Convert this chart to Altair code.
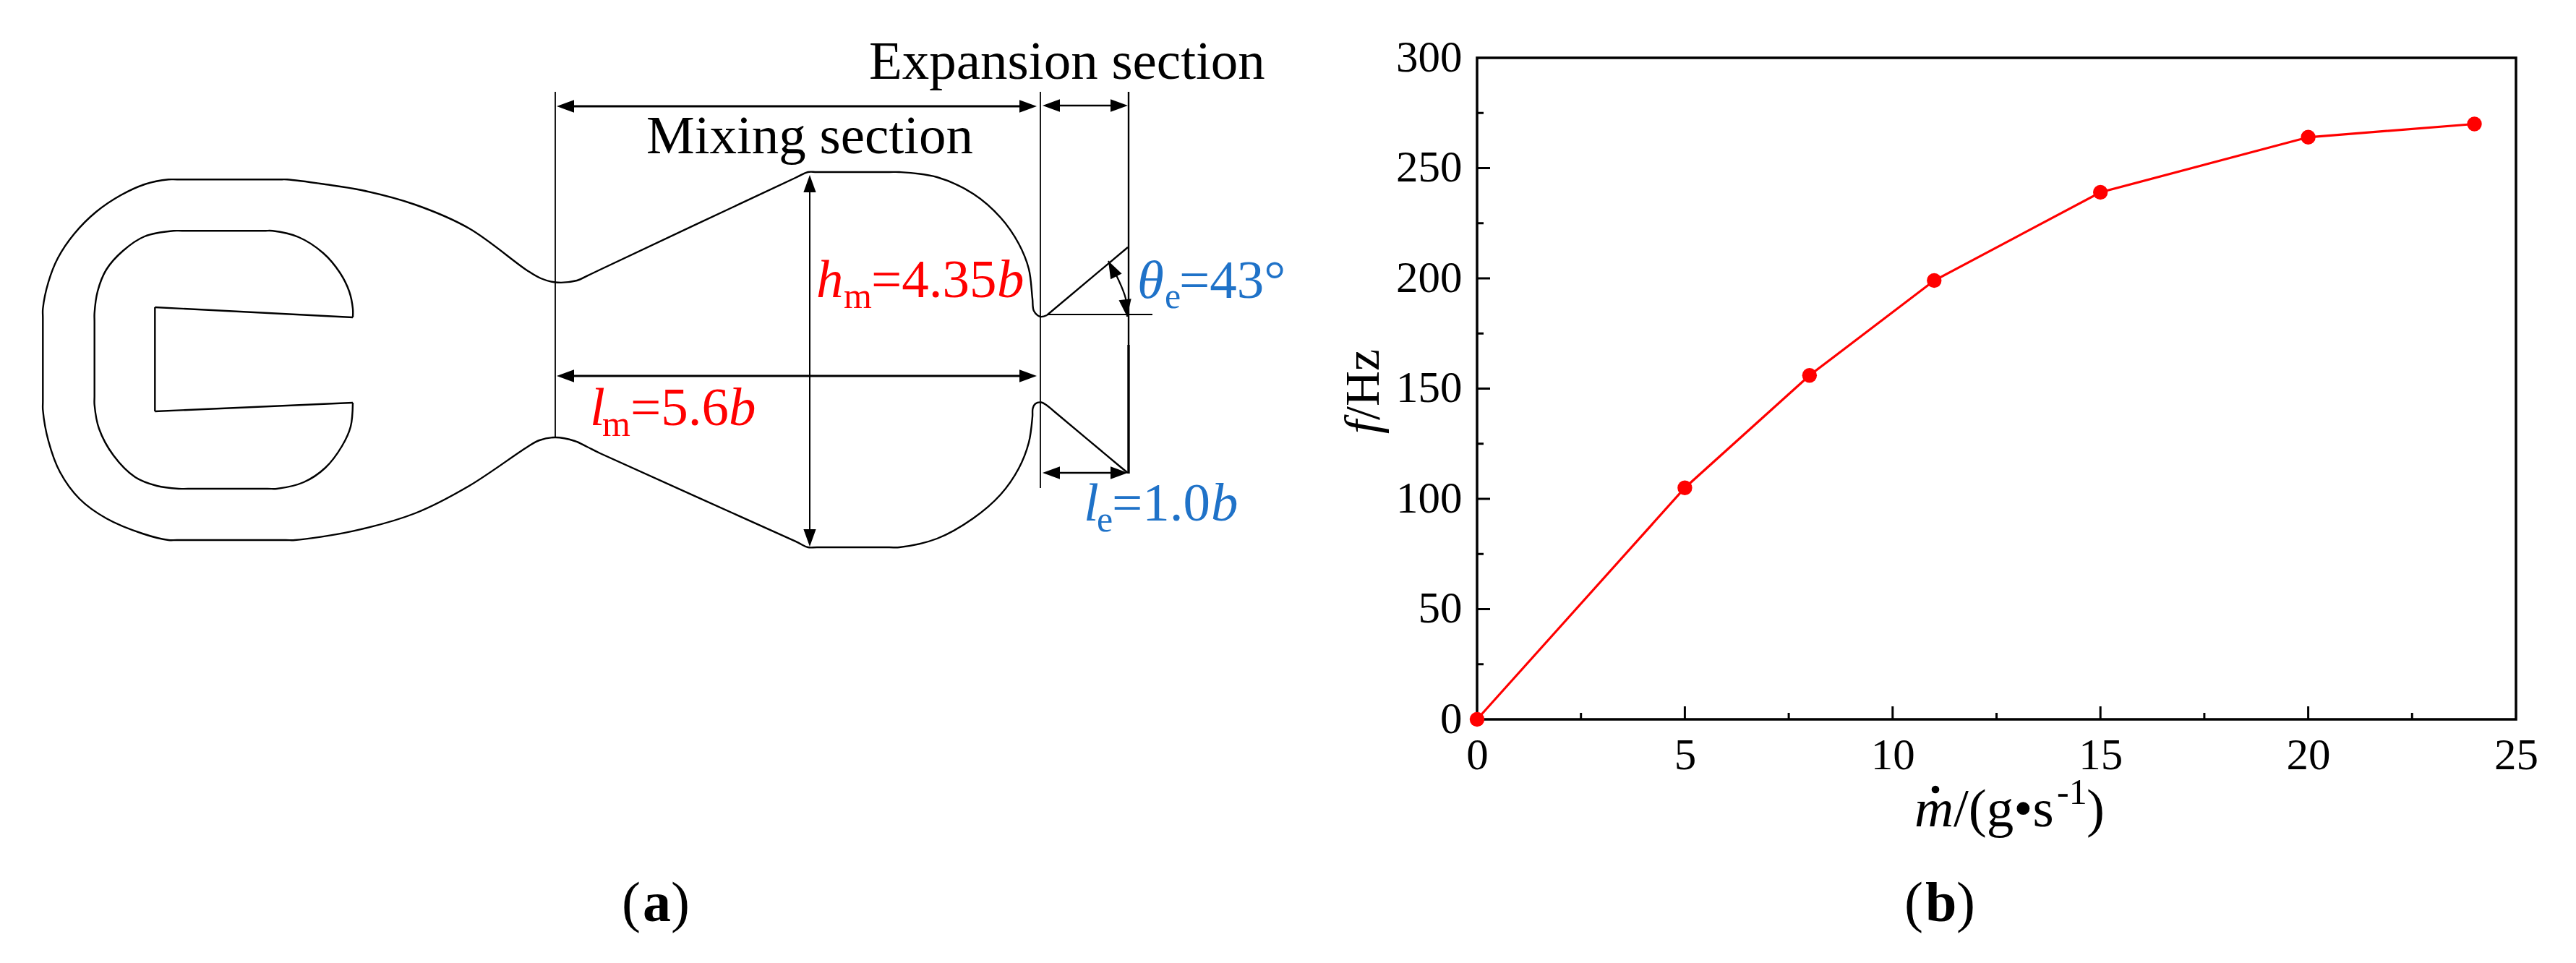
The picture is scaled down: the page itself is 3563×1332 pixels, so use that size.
import altair as alt
import pandas as pd

# ---- panel (b) data ----
MDOT = [0, 5, 8, 11, 15, 20, 24]
FREQ = [0, 105, 156, 199, 239, 264, 270]
X_MAJOR = [0, 5, 10, 15, 20, 25]
X_MINOR = [2.5, 7.5, 12.5, 17.5, 22.5]
Y_MAJOR = [0, 50, 100, 150, 200, 250, 300]
Y_MINOR = [25, 75, 125, 175, 225, 275]

# ---- panel (a) drawing, in the drawing's own units ----
OUTER = [
    (1448, 436), (1439, 438), (1430, 430), (1428, 413), (1423, 372), (1409, 337), (1384, 301), (1346, 268), (1296, 245),
    (1244, 238), (1230, 238), (1130, 238), (1117.5, 238), (1100, 246), (830, 373), (812, 381.6), (798, 388), (768, 390.5),
    (748, 385), (729, 374), (649, 316), (574, 283), (500, 263), (450, 255), (397, 248.3), (385, 248.3), (245, 248.3), (233, 248.3),
    (200, 255), (167, 270), (133, 293), (103, 323), (80, 357), (67, 390), (59.3, 427), (59.3, 440), (59.3, 555), (59.3, 567),
    (67, 610), (83, 653), (110, 690), (147, 717), (197, 738), (233, 747), (245, 747), (395, 747), (408, 747), (488, 734.6), (574, 710),
    (649, 672), (729, 618.5), (746, 609), (768, 605), (795, 610), (812, 618), (830, 627), (1100, 748.6), (1117.5, 757),
    (1130, 757), (1230, 757), (1244, 757), (1296, 745), (1346, 717), (1384, 684), (1409, 648), (1423, 612), (1428, 576.5),
    (1428.5, 565), (1432, 558.5), (1440, 556.5), (1447, 560), (1458, 569), (1550, 646), (1560, 654),
]
INNER = [
    (488, 439), (488, 427), (483, 403), (470, 377), (447, 350), (413, 328), (377, 319.3), (365, 319.3), (252, 319.3), (240, 319.3),
    (200, 327), (170, 347), (147, 373), (135, 403), (130.7, 433), (130.7, 445), (130.7, 548), (130.7, 560), (137, 593), (157, 630),
    (187, 660), (217, 672), (247, 676), (260, 676), (370, 676), (383, 676), (420, 667), (450, 647), (473, 617), (485, 590), (488, 557),
]
ARC = [(1533, 361), (1547, 387), (1557, 413), (1559, 438)]

# straight segments: x1, y1, x2, y2, weight
SEGMENTS = [
    (768, 127, 768, 605, 1.8), (1439, 127, 1439, 675, 1.8), (1561, 127, 1561, 477, 2.4), (1561, 477, 1561, 655, 3.4),
    (1448, 435, 1594, 435, 1.8), (1448, 436, 1560, 342, 2.4),
    (780, 147, 1425, 147, 3), (1450, 146, 1550, 146, 2.4), (1120, 255, 1120, 745, 2),
    (780, 520, 1425, 520, 3), (1450, 654, 1550, 654, 2.4),
    (488, 557, 214.3, 569, 2.4), (214.3, 569, 214.3, 425, 2.4), (214.3, 425, 488, 439, 2.4),
]
# arrow heads: tip x, tip y, pointing direction in degrees
ARROWS = [
    (770, 147, 180), (1434, 147, 0), (1442, 146, 180), (1560, 146, 0),
    (1120, 242, 270), (1120, 756, 90), (770, 520, 180), (1434, 520, 0),
    (1442, 654, 180), (1560, 654, 0), (1533, 361, 243), (1559, 438, 83),
]
RED = "#ff0000"
BLUE = "#1f72c8"
BLACK = "#000000"
# text, x, y, size, colour, style, rotation
TEXTS = [
    ("Expansion section", 1202, 109, 75, BLACK, "normal", 0),
    ("Mixing section", 894, 212, 75, BLACK, "normal", 0),
    ("h", 1129, 411, 75, RED, "italic", 0), ("m", 1167, 426, 50, RED, "normal", 0),
    ("=4.35", 1205, 411, 75, RED, "normal", 0), ("b", 1379, 411, 75, RED, "italic", 0),
    ("l", 816, 588, 75, RED, "italic", 0), ("m", 833, 603, 50, RED, "normal", 0),
    ("=5.6", 872, 588, 75, RED, "normal", 0), ("b", 1008, 588, 75, RED, "italic", 0),
    ("l", 1499, 720, 75, BLUE, "italic", 0), ("e", 1517, 735, 50, BLUE, "normal", 0),
    ("=1.0", 1538, 720, 75, BLUE, "normal", 0), ("b", 1675, 720, 75, BLUE, "italic", 0),
    ("\u03b8", 1573, 412, 75, BLUE, "italic", 0), ("e", 1611, 426, 50, BLUE, "normal", 0),
    ("=43\u00b0", 1631, 412, 75, BLUE, "normal", 0),
    ("(", 860, 1274, 78, BLACK, "normal", 0), ("a", 889, 1274, 78, BLACK, "bold", 0), (")", 928, 1274, 78, BLACK, "normal", 0),
    ("(", 2634, 1274, 78, BLACK, "normal", 0), ("b", 2663, 1274, 78, BLACK, "bold", 0), (")", 2706, 1274, 78, BLACK, "normal", 0),
    ("m", 2648, 1143, 75, BLACK, "italic", 0), ("/(g\u2022s", 2702, 1143, 75, BLACK, "normal", 0),
    ("-1", 2845, 1112, 50, BLACK, "normal", 0), (")", 2886, 1143, 75, BLACK, "normal", 0),
    ("f", 1907, 600, 68, BLACK, "italic", 270), ("/Hz", 1907, 581, 68, BLACK, "normal", 270),
]
DOT = [(2677, 1092)]

FONT = "Liberation Serif"
PW, PH = 1437, 915

# ---- panel (b) ----
xs = alt.Scale(domain=[0, 25], nice=False, zero=False)
ys = alt.Scale(domain=[0, 300], nice=False, zero=False)
xax = alt.Axis(values=X_MAJOR, title=None, domain=False, ticks=False, grid=False, labelFont=FONT, labelFontSize=61,
               labelColor="black", labelPadding=20, labelOverlap=False, labelFlush=False, labelBound=False, format="d")
yax = alt.Axis(values=Y_MAJOR, title=None, domain=False, ticks=False, grid=False, labelFont=FONT, labelFontSize=61,
               labelColor="black", labelPadding=21, labelOverlap=False, labelFlush=False, labelBound=False, format="d")
df = pd.DataFrame({"m": MDOT, "f": FREQ})

line = alt.Chart(df).mark_line(color=RED, strokeWidth=3.2, clip=False).encode(
    x=alt.X("m:Q", scale=xs, axis=xax), y=alt.Y("f:Q", scale=ys, axis=yax))
pts = alt.Chart(df).mark_point(filled=True, color=RED, size=415, opacity=1, clip=False).encode(
    x=alt.X("m:Q", scale=xs), y=alt.Y("f:Q", scale=ys))


def xticks(vals, length):
    return alt.Chart(pd.DataFrame({"v": vals})).mark_rule(color="black", strokeWidth=3).encode(
        x=alt.X("v:Q", scale=xs), y=alt.value(PH), y2=alt.value(PH - length))


def yticks(vals, length):
    return alt.Chart(pd.DataFrame({"v": vals})).mark_rule(color="black", strokeWidth=3).encode(
        y=alt.Y("v:Q", scale=ys), x=alt.value(0), x2=alt.value(length))


panel_b = alt.layer(xticks(X_MAJOR[1:-1], 18), xticks(X_MINOR, 9), yticks(Y_MAJOR[1:-1], 18), yticks(Y_MINOR, 9), line, pts)

# ---- panel (a) ----
dx = alt.Scale(domain=[2043, 3480], nice=False, zero=False)
dy = alt.Scale(domain=[995, 80], nice=False, zero=False)
PX = alt.X("x:Q", scale=dx, axis=None)
PY = alt.Y("y:Q", scale=dy, axis=None)


def curve(points, width):
    d = pd.DataFrame(points, columns=["x", "y"])
    d["i"] = range(len(d))
    return alt.Chart(d).mark_line(color="black", strokeWidth=width, interpolate="catmull-rom", clip=False).encode(
        x=PX, y=PY, order="i:Q")


seg = pd.DataFrame(SEGMENTS, columns=["x", "y", "x2", "y2", "w"])
segs = alt.Chart(seg).mark_rule(color="black", clip=False).encode(
    x=PX, y=PY, x2="x2:Q", y2="y2:Q", strokeWidth=alt.StrokeWidth("w:Q", scale=None))

arrow = pd.DataFrame(ARROWS, columns=["x", "y", "a"])
heads = alt.Chart(arrow).mark_point(filled=True, color="black", opacity=1, size=2304, strokeWidth=0, clip=False,
                                    shape="M0,0L-1,-0.36L-1,0.36Z").encode(
    x=PX, y=PY, angle=alt.Angle("a:Q", scale=None))

dot = alt.Chart(pd.DataFrame(DOT, columns=["x", "y"])).mark_point(
    filled=True, color="black", opacity=1, size=113, clip=False).encode(x=PX, y=PY)

txt = pd.DataFrame(TEXTS, columns=["t", "x", "y", "s", "c", "style", "a"])


def text_layer(style):
    kw = {"fontStyle": "italic"} if style == "italic" else ({"fontWeight": "bold"} if style == "bold" else {})
    return alt.Chart(txt[txt["style"] == style]).mark_text(font=FONT, align="left", baseline="alphabetic", clip=False, **kw).encode(
        x=PX, y=PY, text="t:N", size=alt.Size("s:Q", scale=None), color=alt.Color("c:N", scale=None),
        angle=alt.Angle("a:Q", scale=None))


panel_a = alt.layer(curve(OUTER, 2.4), curve(INNER, 2.4), curve(ARC, 2.2), segs, heads, dot,
                    text_layer("normal"), text_layer("italic"), text_layer("bold"))

chart = alt.layer(panel_b, panel_a).resolve_scale(x="independent", y="independent").properties(
    width=PW, height=PH, autosize="none",
    padding={"left": 2035, "top": 72, "right": 75, "bottom": 329},
    background="white",
).configure_view(stroke="black", strokeWidth=3.5)

chart.save("out.html", embed_options={"renderer": "svg", "actions": False})
